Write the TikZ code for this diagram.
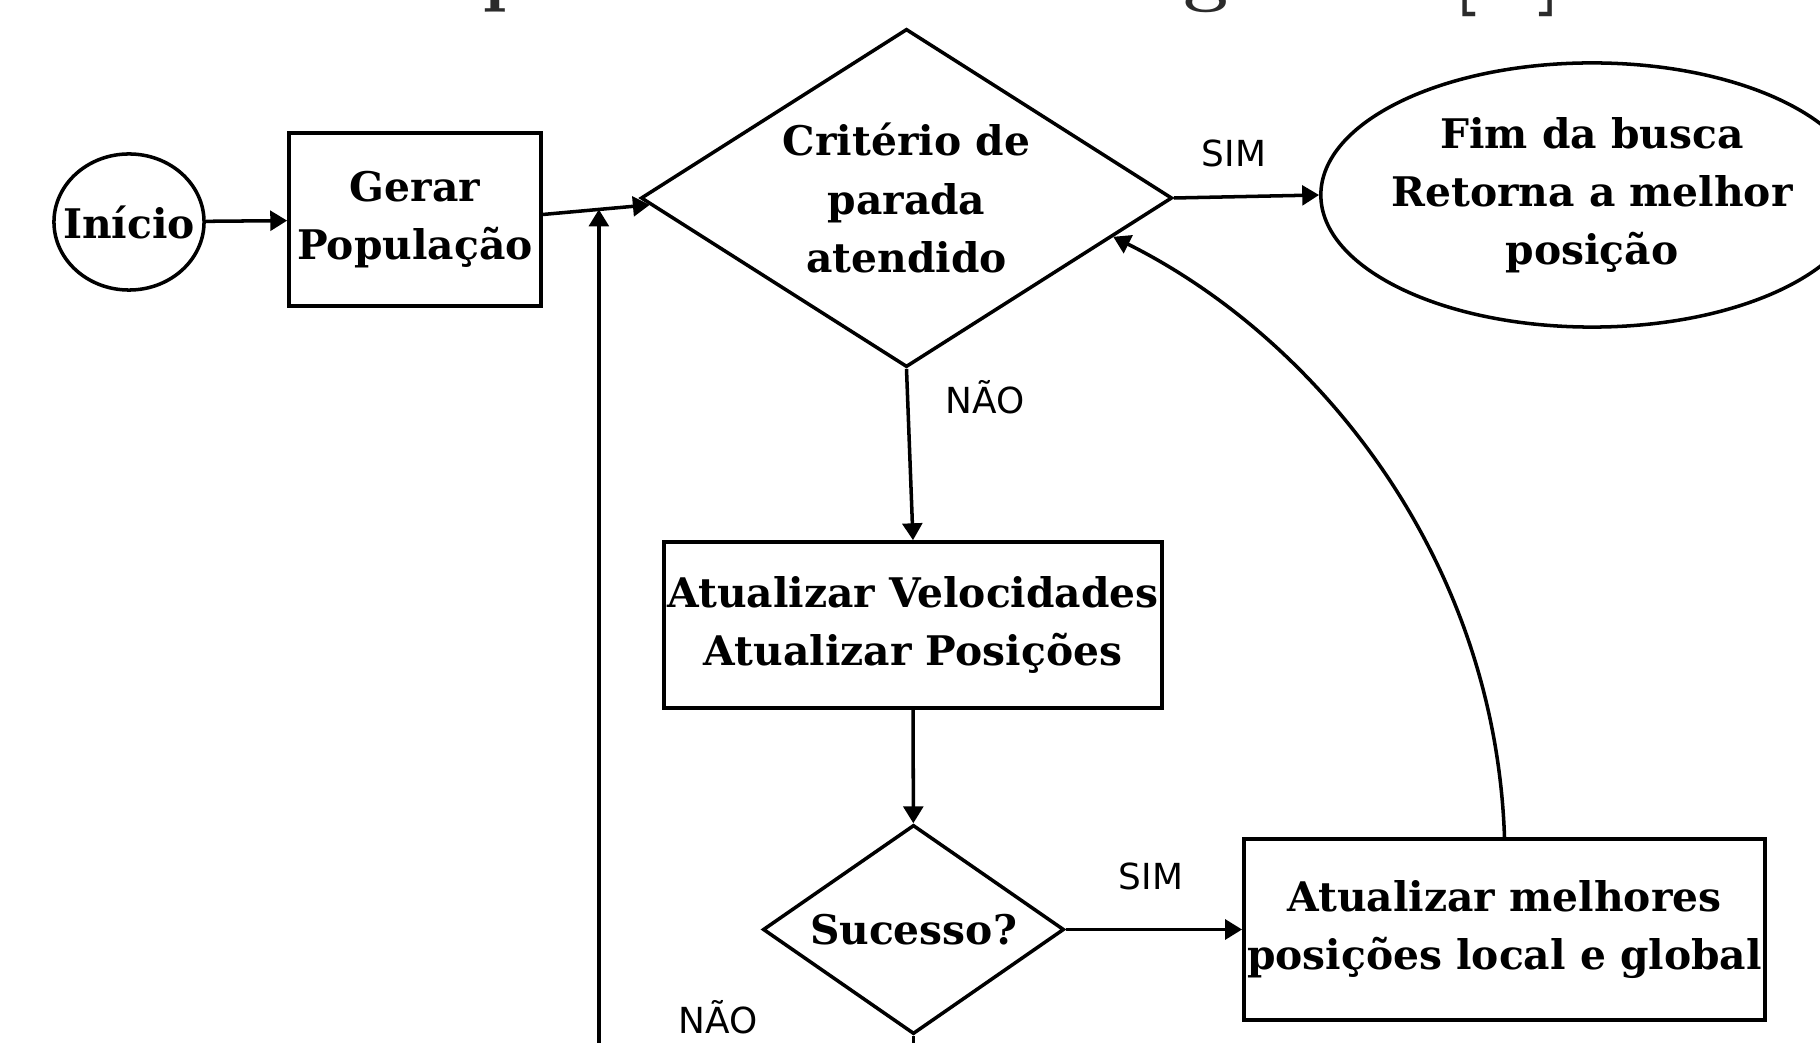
\documentclass[tikz,border=0pt]{standalone}
\usepackage{fontspec}
\usepackage{xcolor}
\usepackage{tikz}
\usetikzlibrary{shapes.geometric,arrows.meta,calc}
\newfontfamily\boxfont{DejaVu Serif}
\newfontfamily\labelfont{DejaVu Sans}
\definecolor{titlegray}{HTML}{2B2B2B}

\begin{document}
\begin{tikzpicture}[x=0.01cm,y=-0.01cm,
    every node/.style={inner sep=0pt},
    txt/.style={font=\boxfont\bfseries\fontsize{11.6}{16.5}\selectfont, align=center},
    proc/.style={txt, draw, line width=1pt, rectangle},
    decis/.style={txt, draw, line width=1pt, diamond},
    term/.style={txt, draw, line width=1pt, ellipse},
    ans/.style={font=\labelfont\fontsize{10.2}{12}\selectfont},
    frag/.style={font=\fontsize{23}{28}\selectfont\bfseries, text=titlegray, anchor=base west},
    flow/.style={line width=1pt, -{Triangle[length=4.8pt,width=5.6pt]}}]
  \useasboundingbox (0,0) rectangle (1820,1043);
  \clip (0,0) rectangle (1820,1043);
      % title cut at the top
      \node[frag] (tp) at (482,-3) {p};
      \node[frag] (tg) at (1183,-3) {g};
      \node[frag] (tl) at (1452,-3) {[};
      \node[frag] (tr) at (1537,-3) {]};
      % blocks
      \node[term, minimum width=1.5cm, minimum height=1.36cm] (ini) at (129,222) {\makebox[0pt]{Início}};
      \node[proc, minimum width=2.52cm, minimum height=1.73cm] (gen) at (415,219.5) {Gerar\\População};
      \node[decis, shape aspect=1.57, minimum width=5.31cm, minimum height=3.38cm] (crit) at (906.5,198) {Critério de\\parada\\atendido};
      \node[term, inner xsep=-0.12cm, minimum width=5.42cm, minimum height=2.64cm] (fim) at (1592,195) {Fim da busca\\Retorna a melhor\\posição};
      \node[proc, minimum width=4.98cm, minimum height=1.66cm] (upd) at (913,625) {Atualizar Velocidades\\Atualizar Posições};
      \node[decis, shape aspect=1.44, minimum width=3.01cm, minimum height=2.09cm] (suc) at (913.5,929.5) {Sucesso?};
      \node[proc, minimum width=5.21cm, minimum height=1.81cm] (best) at (1504.5,929.5) {Atualizar melhores\\posições local e global};
      % answers
      \node[ans] (s1) at (1234,153) {SIM};
      \node[ans] (n1) at (985,397) {NÃO};
      \node[ans] (s2) at (1151,876) {SIM};
      \node[ans] (n2) at (718,1017) {NÃO};
      \coordinate (genout) at ([yshift=0.05cm]gen.east);
      \coordinate (critl) at ($(crit.west)!0.04!(crit.south)$);
      \coordinate (join) at ($(genout)!0.524!(critl)$);
      \coordinate (critin) at ($(crit.east)!0.227!(crit.south)$);
      \coordinate (sucout) at (913.5,1100);
      \coordinate (loopin) at (join |- sucout);
      \draw[flow] (ini) -- (gen);
      \draw[flow] (genout) -- (critl);
      \draw[flow] (loopin) -- (join);
      \draw[flow] (crit.east) -- (fim.west);
      \draw[flow] (crit.south) -- (upd.north);
      \draw[flow] (upd) -- (suc);
      \draw[flow] (suc) -- (best);
      \draw[flow] (best.north) .. controls (1495,560) and (1320,340) .. (critin);
      \draw[line width=1pt] (suc.south) -- (sucout);
    \end{tikzpicture}
\end{document}
